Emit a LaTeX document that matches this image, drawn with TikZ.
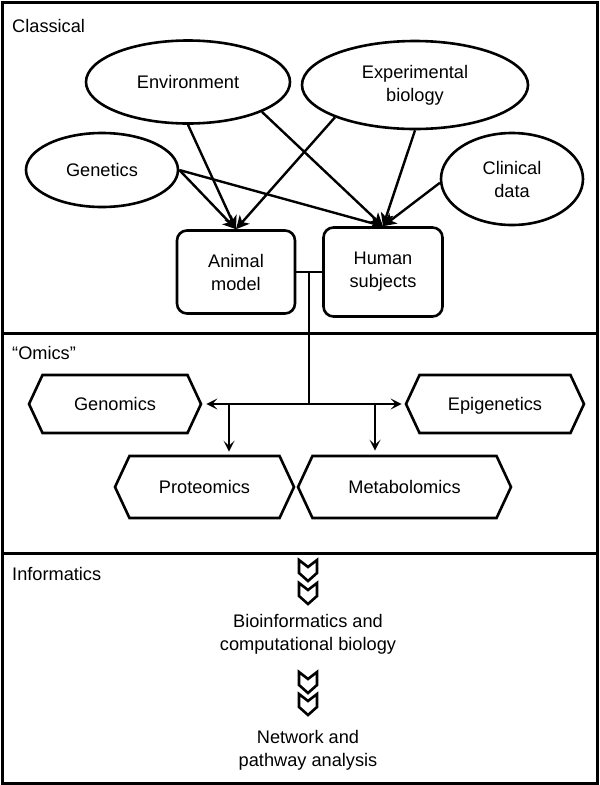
\documentclass[tikz,border=0pt]{standalone}
\usepackage{fontspec}
\setmainfont{Liberation Sans}
\usetikzlibrary{shapes.geometric,shapes.symbols,arrows.meta}
\begin{document}
\begin{tikzpicture}[x=1pt,y=-1pt,
  every node/.style={font=\fontsize{18.2}{23}\selectfont, align=center},
  ell/.style={ellipse, draw, line width=2.6pt, inner sep=0pt},
  rbox/.style={draw, rectangle, rounded corners=10pt, line width=2.6pt, inner sep=0pt},
  hexa/.style={draw, signal, signal to=west and east, signal pointer angle=130, line width=2.6pt, inner sep=0pt, text height=13pt, text depth=1pt},
  conn/.style={line width=2.4pt},
  arr/.style={line width=2.4pt, -{Stealth[length=13pt,width=13pt,inset=3.5pt]}},
  barb/.style={line width=2.4pt, -{Stealth[length=11pt,width=11pt,inset=5pt]}},
  frame/.style={line width=3pt},
  lbl/.style={anchor=west, inner sep=0pt},
  chevron/.pic={\draw[line width=2.6pt, line join=miter, fill=white]
     (-9,0) -- (-9,13) -- (0,21) -- (9,13) -- (9,0) -- (0,7) -- cycle;}
]
\useasboundingbox (0,0) rectangle (600,785);
% frame and dividers
\draw[frame] (2,2) rectangle (597,783);
\draw[frame] (2,333) -- (597,333);
\draw[frame] (2,553) -- (597,553);
% section labels
\node[lbl] (lclass) at (12,26) {Classical};
\node[lbl] (lomics) at (12,353) {``Omics''};
\node[lbl] (linfo) at (12,574) {Informatics};
% classical
\node[ell, minimum width=204pt, minimum height=83pt] (env) at (188,82) {Environment};
\node[ell, minimum width=226pt, minimum height=88pt] (exp) at (415,85) {Experimental\\biology};
\node[ell, minimum width=152pt, minimum height=74pt] (gen) at (102,170) {Genetics};
\node[ell, minimum width=142pt, minimum height=92pt] (clin) at (512,179) {Clinical\\data};
\node[rbox, minimum width=118pt, minimum height=83pt] (am) at (236,272) {Animal\\model};
\node[rbox, minimum width=119pt, minimum height=89pt] (hs) at (383,272) {Human\\subjects};
\draw[arr] (gen.east) -- (am.north);
\draw[arr] (gen.east) -- (hs.north);
\draw[arr] (env.south) -- (am.north);
\draw[arr] (env.-22) -- (hs.north);
\draw[arr] (exp.-158) -- (am.north);
\draw[arr] (exp.south) -- (hs.north);
\draw[arr] (clin.183) -- (hs.north);
% omics
\node[hexa, minimum width=172pt, minimum height=58pt] (geno) at (115,404) {Genomics};
\node[hexa, minimum width=178pt, minimum height=58pt] (epi) at (495,404) {Epigenetics};
\node[hexa, minimum width=179pt, minimum height=62pt] (prot) at (204.5,487) {Proteomics};
\node[hexa, minimum width=213pt, minimum height=62pt] (meta) at (404.5,487) {Metabolomics};
\coordinate (j1) at (309,272.5);
\coordinate (j2) at (309,404);
\coordinate (jp) at (229,404);
\coordinate (jm) at (375,404);
\draw[conn] (am.east) -- (hs.west);
\draw[conn] (j1) -- (j2);
\draw[barb, shorten >=4pt] (j2) -- (geno.east);
\draw[barb, shorten >=3pt] (j2) -- (epi.west);
\draw[barb, shorten >=3pt] (jp) -- (jp |- prot.north) ;
\draw[barb, shorten >=4pt] (jm) -- (jm |- meta.north);
% informatics
\pic at (308,560) {chevron};
\pic at (308,583) {chevron};
\node (bio) at (308,634) {Bioinformatics and\\computational biology};
\pic at (308,672) {chevron};
\pic at (308,694) {chevron};
\node (net) at (308,750) {Network and\\pathway analysis};
\end{tikzpicture}
\end{document}
